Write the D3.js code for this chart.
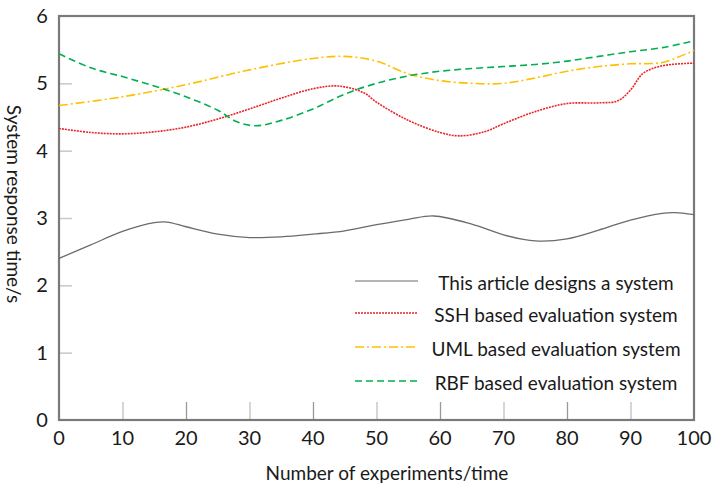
<!DOCTYPE html>
<html>
<head>
<meta charset="utf-8">
<script src="https://cdn.jsdelivr.net/npm/d3@7"></script>
<style>
  body { margin: 0; background: #fff; }
  text { font-family: Lato, "Noto Sans", sans-serif; fill: #1a1a1a; }
</style>
</head>
<body>
<div id="chart"></div>
<script>
const width = 713;
const height = 486;
const margin = {top: 16, right: 19, bottom: 66, left: 59};

const seriesNames = ['This article designs a system', 'SSH based evaluation system',
  'UML based evaluation system', 'RBF based evaluation system'];

const ownX = [0, 5, 10, 15, 17, 20, 25, 30, 35, 40, 45, 50, 55, 59, 65, 70, 75, 80, 85, 90, 95, 97, 100];
const ownY = [2.40, 2.60, 2.80, 2.93, 2.94, 2.87, 2.76, 2.71, 2.72, 2.76, 2.81, 2.90, 2.98, 3.03, 2.91, 2.75, 2.66, 2.69, 2.82, 2.97, 3.07, 3.08, 3.05];

const sshX = [0, 5, 10, 15, 20, 25, 30, 35, 40, 44, 48, 50, 55, 60, 63, 67, 70, 75, 80, 85, 88, 90, 92, 95, 100];
const sshY = [4.33, 4.27, 4.25, 4.28, 4.35, 4.47, 4.62, 4.78, 4.92, 4.96, 4.86, 4.72, 4.45, 4.27, 4.22, 4.28, 4.40, 4.58, 4.70, 4.71, 4.74, 4.90, 5.15, 5.26, 5.30];

const umlX = [0, 10, 20, 30, 40, 45, 50, 55, 60, 65, 70, 75, 80, 85, 90, 95, 100];
const umlY = [4.67, 4.80, 4.98, 5.20, 5.37, 5.40, 5.33, 5.14, 5.04, 5.00, 5.00, 5.08, 5.18, 5.25, 5.29, 5.31, 5.49];

const rbfX = [0, 5, 10, 15, 20, 25, 28, 31, 35, 40, 45, 50, 55, 60, 65, 70, 75, 80, 85, 90, 95, 100];
const rbfY = [5.44, 5.23, 5.10, 4.96, 4.80, 4.60, 4.43, 4.37, 4.45, 4.62, 4.84, 5.00, 5.11, 5.18, 5.22, 5.25, 5.28, 5.33, 5.40, 5.47, 5.53, 5.63];

const xTicks = [0, 10, 20, 30, 40, 50, 60, 70, 80, 90, 100];
const yTicks = [0, 1, 2, 3, 4, 5, 6];

const colors = ['#6b6b6b', '#e8242a', '#ffc000', '#00b050'];
const dashes = [null, '2,1', '9,3,2,3', '7,4'];

const svg = d3.select('#chart').append('svg')
    .attr('width', width)
    .attr('height', height);

const x = d3.scaleLinear().domain([0, 100]).range([margin.left, width - margin.right]);
const y = d3.scaleLinear().domain([0, 6]).range([height - margin.bottom, margin.top]);

// inner ticks
svg.append('g')
    .attr('transform', `translate(${margin.left},0)`)
    .call(d3.axisRight(y).tickValues(yTicks.slice(1, -1)).tickSize(13).tickFormat(''))
    .call(g => g.select('.domain').remove())
    .call(g => g.selectAll('line').attr('stroke', '#c8c8c8').attr('stroke-width', 1.5));

svg.append('g')
    .attr('transform', `translate(0,${height - margin.bottom})`)
    .call(d3.axisTop(x).tickValues(xTicks.slice(1, -1)).tickSize(18).tickFormat(''))
    .call(g => g.select('.domain').remove())
    .call(g => g.selectAll('line').attr('stroke', (d, i) => i % 2 ? '#999' : '#c0c0c0').attr('stroke-width', 1.3));

// tick labels
svg.append('g').selectAll('text').data(yTicks).join('text')
    .attr('x', 42).attr('y', d => y(d))
    .attr('dy', '0.35em')
    .attr('text-anchor', 'middle')
    .style('font-size', '20px')
    .text(d => d);

svg.append('g').selectAll('text').data(xTicks).join('text')
    .attr('x', d => x(d)).attr('y', 438)
    .attr('dy', '0.35em')
    .attr('text-anchor', 'middle')
    .style('font-size', '20px')
    .text(d => d);

// frame
svg.append('rect')
    .attr('x', margin.left).attr('y', margin.top)
    .attr('width', width - margin.left - margin.right)
    .attr('height', height - margin.top - margin.bottom)
    .attr('fill', 'none')
    .attr('stroke', '#7a7a7a')
    .attr('stroke-width', 2.2);

// lines
const line = d3.line().curve(d3.curveCatmullRom.alpha(0.5))
    .x(d => x(d[0])).y(d => y(d[1]));

const allSeries = [
  d3.zip(ownX, ownY), d3.zip(sshX, sshY), d3.zip(umlX, umlY), d3.zip(rbfX, rbfY)
];

svg.append('g').selectAll('path').data(allSeries).join('path')
    .attr('d', line)
    .attr('fill', 'none')
    .attr('stroke', (d, i) => colors[i])
    .attr('stroke-width', (d, i) => i === 0 ? 1.3 : 1.6)
    .attr('stroke-dasharray', (d, i) => dashes[i]);

// legend
const legendY = [281, 313, 347, 381];
const legend = svg.append('g').selectAll('g').data(seriesNames).join('g')
    .attr('transform', (d, i) => `translate(0,${legendY[i]})`);

legend.append('line')
    .attr('x1', 355).attr('x2', 418)
    .attr('stroke', (d, i) => colors[i])
    .attr('stroke-width', (d, i) => i === 0 ? 1.2 : 1.4)
    .attr('stroke-dasharray', (d, i) => dashes[i]);

legend.append('text')
    .attr('x', 556).attr('y', 2)
    .attr('dy', '0.35em')
    .attr('text-anchor', 'middle')
    .style('font-size', '19px')
    .text(d => d);

// axis titles
svg.append('text')
    .attr('x', 387).attr('y', 473)
    .attr('dy', '0.35em')
    .attr('text-anchor', 'middle')
    .style('font-size', '19px')
    .text('Number of experiments/time');

svg.append('text')
    .attr('transform', 'translate(14,204) rotate(90)')
    .attr('dy', '0.35em')
    .attr('text-anchor', 'middle')
    .style('font-size', '19px')
    .text('System response time/s');
</script>
</body>
</html>
